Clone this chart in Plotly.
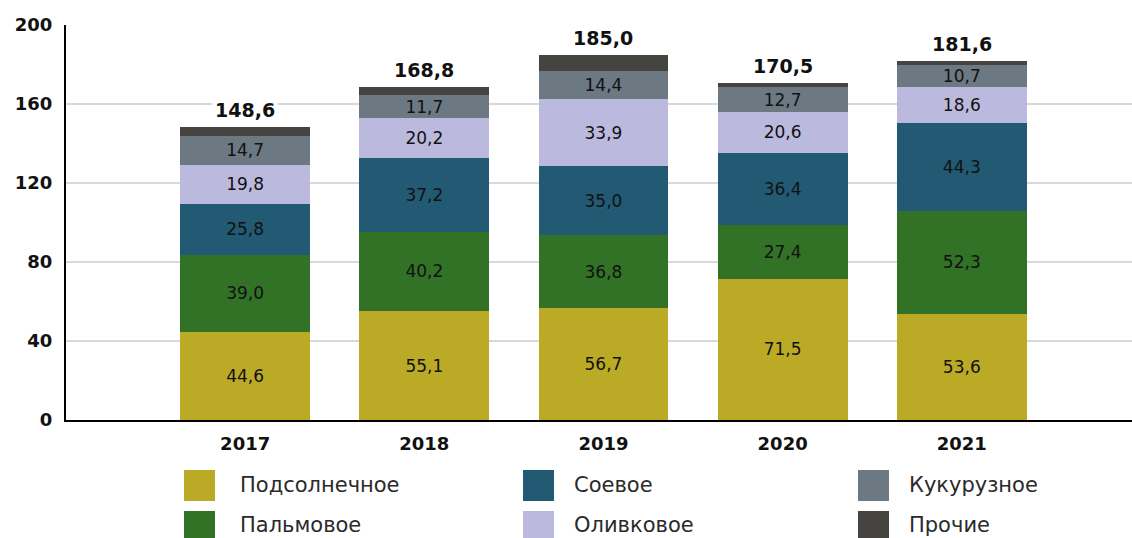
import plotly.graph_objects as go

years = ["2017", "2018", "2019", "2020", "2021"]
series_names = ["Подсолнечное", "Пальмовое", "Соевое", "Оливковое", "Кукурузное", "Прочие"]
sunflower = [44.6, 55.1, 56.7, 71.5, 53.6]
palm = [39.0, 40.2, 36.8, 27.4, 52.3]
soy = [25.8, 37.2, 35.0, 36.4, 44.3]
olive = [19.8, 20.2, 33.9, 20.6, 18.6]
corn = [14.7, 11.7, 14.4, 12.7, 10.7]
other = [4.7, 4.4, 8.2, 1.9, 2.1]
colors = ["#BBAA26", "#317226", "#215A72", "#BCB9DE", "#6C7882", "#454441"]
y_ticks = [0, 40, 80, 120, 160, 200]

series = [sunflower, palm, soy, olive, corn, other]
totals = [round(sum(v), 1) for v in zip(*series)]

FONT = "DejaVu Sans"
fig = go.Figure()
for name, vals, col in zip(series_names, series, colors):
    show_text = name != "Прочие"
    fig.add_trace(go.Bar(
        x=years, y=vals, name=name, marker=dict(color=col, line=dict(width=0)),
        text=vals if show_text else None,
        texttemplate="%{y:.1f}" if show_text else None,
        textposition="inside" if show_text else "none",
        insidetextanchor="middle",
        textfont=dict(family=FONT, size=17, color="#111"),
        showlegend=False, hoverinfo="skip",
    ))

for i, t in enumerate(totals):
    fig.add_annotation(x=i, y=t, text=f"<b>{t:.1f}</b>".replace(".", ","),
                       showarrow=False, yanchor="bottom", yshift=3,
                       font=dict(family=FONT, size=19, color="#111"),
                       bgcolor="white", borderpad=2)

# custom legend
L, R, T, B = 66, 1132, 25, 420
W, H = R - L, B - T
def px(x):
    return (x - L) / W
def py(y):
    return (B - y) / H

# (square x, square y, text x, text center y)
legend_pos = [(184, 470, 239, 485), (184, 511, 239, 525),
              (523, 470, 573, 485), (523, 511, 573, 525),
              (858, 470, 908, 485), (858, 511, 908, 525)]
for i, (sx, sy, tx, ty) in enumerate(legend_pos):
    fig.add_shape(type="rect", xref="paper", yref="paper",
                  x0=px(sx), x1=px(sx + 31), y0=py(sy + 31), y1=py(sy),
                  fillcolor=colors[i], line=dict(width=0))
    fig.add_annotation(xref="paper", yref="paper", x=px(tx), y=py(ty),
                       text=series_names[i], showarrow=False, xanchor="left", yanchor="middle",
                       font=dict(family=FONT, size=21, color="#2a2a2a"), borderpad=0)

fig.update_layout(
    barmode="stack", bargap=0.275,
    width=1132, height=538,
    margin=dict(l=L, r=0, t=T, b=538 - B),
    plot_bgcolor="white", paper_bgcolor="white",
    separators=", ",
    uniformtext=dict(minsize=17, mode="show"),
    font=dict(family=FONT),
)
fig.update_xaxes(type="category", range=[-1, 4.95], showline=True, linecolor="black", linewidth=2,
                 showgrid=False, ticks="", tickfont=dict(family=FONT, size=18, color="#111", weight="bold"),
                 ticklabelstandoff=6)
fig.update_yaxes(range=[0, 200], tickvals=y_ticks, showline=True, linecolor="black", linewidth=2,
                 gridcolor="#d9d9d9", gridwidth=1.5, zeroline=False,
                 tickfont=dict(family=FONT, size=18, color="#111", weight="bold"),
                 ticklabelstandoff=8)

fig.write_html("out.html")
